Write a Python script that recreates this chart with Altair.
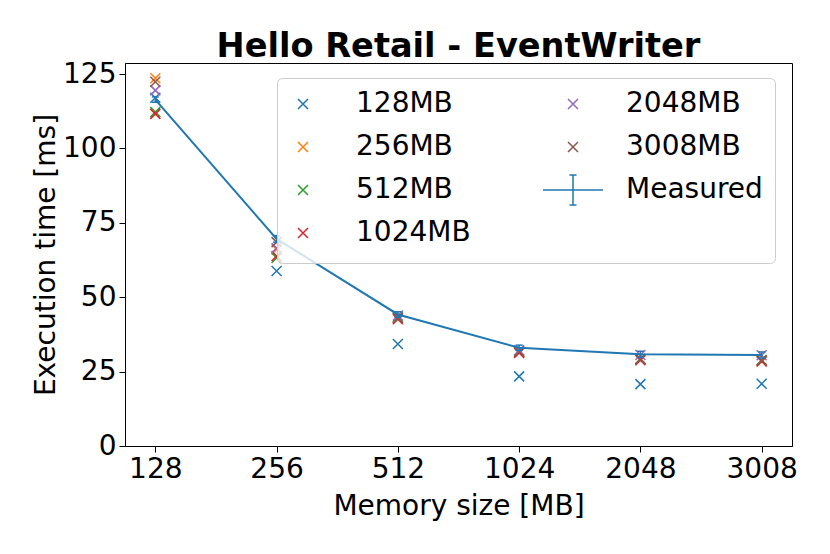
import altair as alt
import pandas as pd

# ---- data ----
mem_sizes = ["128", "256", "512", "1024", "2048", "3008"]
series_names = ["128MB", "256MB", "512MB", "1024MB", "2048MB", "3008MB"]

pred_128mb = [117.0, 58.8, 34.3, 23.4, 20.8, 20.9]
pred_256mb = [123.6, 66.0, 43.0, 31.6, 29.0, 28.6]
pred_512mb = [112.2, 63.2, 43.3, 31.8, 29.3, 28.9]
pred_1024mb = [111.6, 63.8, 42.6, 31.3, 28.8, 28.4]
pred_2048mb = [119.5, 66.5, 43.8, 32.2, 30.6, 30.5]
pred_3008mb = [122.4, 68.5, 42.9, 31.7, 29.2, 28.8]

measured_mean = [116.4, 69.6, 44.2, 33.0, 30.8, 30.6]
measured_err = [0.9, 1.1, 0.9, 0.9, 1.0, 1.0]

# ---- tables ----
preds = [pred_128mb, pred_256mb, pred_512mb, pred_1024mb, pred_2048mb, pred_3008mb]
rows = []
for name, vals in zip(series_names, preds):
    for m, v in zip(mem_sizes, vals):
        rows.append({"mem": m, "series": name, "value": v})
pred_df = pd.DataFrame(rows)

meas_df = pd.DataFrame({
    "mem": mem_sizes,
    "mean": measured_mean,
    "lo": [a - b for a, b in zip(measured_mean, measured_err)],
    "hi": [a + b for a, b in zip(measured_mean, measured_err)],
})

# ---- styling ----
BLUE = "#1f77b4"
color_of = {
    "128MB": "#1f77b4", "256MB": "#ff7f0e", "512MB": "#2ca02c",
    "1024MB": "#d62728", "2048MB": "#9467bd", "3008MB": "#8c564b",
    "Measured": BLUE,
}
legend_order = series_names + ["Measured"]
X_PATH = "M-6,0M-1,-1L1,1M-1,1L1,-1M6,0M0,-3M0,3"
ERR_PATH = "M-6,0L6,0M0,-3L0,3M-0.7,-3L0.7,-3M-0.7,3L0.7,3"
legend_colors = [color_of[s] for s in legend_order]
legend_shapes = [ERR_PATH if s == "Measured" else X_PATH for s in legend_order]

FONT = "DejaVu Sans"

x_enc = alt.X(
    "mem:O",
    sort=mem_sizes,
    scale=alt.Scale(type="point", padding=0.25),
    axis=alt.Axis(title="Memory size [MB]", labelAngle=0, titlePadding=9),
)
y_scale = alt.Scale(domain=[0, 128.7], nice=False, zero=True)
y_axis = alt.Axis(title="Execution time [ms]", values=[0, 25, 50, 75, 100, 125], titlePadding=2)

leg = alt.Legend(
    orient="none", legendX=152, legendY=15, columns=2,
    symbolSize=100, symbolStrokeWidth=1.5, symbolOpacity=1,
    labelFont=FONT, labelFontSize=28, labelColor="black",
    labelOffset=39, rowPadding=7, columnPadding=69, padding=12,
    fillColor="rgba(255,255,255,0.8)", strokeColor="#cccccc", cornerRadius=5,
)

points = alt.Chart(pred_df).mark_point(
    filled=False, size=100, strokeWidth=1.5, opacity=1
).encode(
    x=x_enc,
    y=alt.Y("value:Q", scale=y_scale, axis=y_axis),
    color=alt.Color("series:N", scale=alt.Scale(domain=legend_order, range=legend_colors),
                    legend=leg, title=None),
    shape=alt.Shape("series:N", scale=alt.Scale(domain=legend_order, range=legend_shapes),
                    legend=leg, title=None),
)

line = alt.Chart(meas_df).mark_line(color=BLUE, strokeWidth=2).encode(
    x=x_enc, y=alt.Y("mean:Q", scale=y_scale, axis=y_axis)
)
bars = alt.Chart(meas_df).mark_rule(color=BLUE, strokeWidth=1.5).encode(
    x=x_enc, y=alt.Y("lo:Q", scale=y_scale, axis=y_axis), y2="hi:Q"
)
cap_lo = alt.Chart(meas_df).mark_tick(color=BLUE, size=7, thickness=1.5, opacity=1).encode(
    x=x_enc, y=alt.Y("lo:Q", scale=y_scale, axis=y_axis)
)
cap_hi = alt.Chart(meas_df).mark_tick(color=BLUE, size=7, thickness=1.5, opacity=1).encode(
    x=x_enc, y=alt.Y("hi:Q", scale=y_scale, axis=y_axis)
)

chart = alt.layer(points, line, bars, cap_lo, cap_hi).properties(
    width=667, height=383,
    title=alt.Title("Hello Retail - EventWriter", font=FONT, fontSize=33.6,
                    fontWeight="bold", color="black", anchor="middle", offset=-4),
    autosize=alt.AutoSizeParams(type="none"),
    padding={"left": 117, "top": 55, "right": 20, "bottom": 80},
).configure_view(
    stroke="black", strokeWidth=1
).configure_axis(
    grid=False, labelFont=FONT, labelFontSize=28, labelColor="black",
    titleFont=FONT, titleFontSize=28, titleFontWeight="normal", titleColor="black",
    domainColor="black", domainWidth=1, tickColor="black", tickSize=6, tickWidth=1,
    labelPadding=3,
)

chart.save("out.html", embed_options={"renderer": "svg", "actions": False})
